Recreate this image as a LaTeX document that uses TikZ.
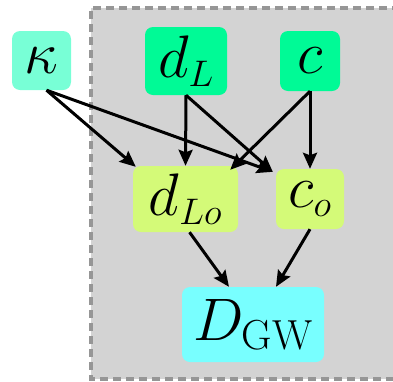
\RequirePackage{fix-cm}
\documentclass[tikz,border=0pt]{standalone}
\usetikzlibrary{arrows.meta}
\DeclareMathSizes{60}{60}{37}{26}

\definecolor{kappacol}{HTML}{78FFD6}
\definecolor{inputcol}{HTML}{00FA96}
\definecolor{obscol}{HTML}{D4FA78}
\definecolor{outcol}{HTML}{78FFFF}
\definecolor{boxgray}{HTML}{D3D3D3}
\definecolor{bordergray}{HTML}{969696}

\begin{document}
\begin{tikzpicture}[x=1pt, y=-1pt,
    var/.style={rounded corners=8pt, inner sep=0pt,
      font=\fontsize{60}{62}\selectfont},
    link/.style={line width=3pt, -{Stealth[length=16pt,width=14pt,inset=2.5pt]}}]
    \useasboundingbox (0,0) rectangle (393,381);
    % shaded plate
    \fill[boxgray] (91,8) rectangle (400,379);
    \draw[bordergray, line width=3.2pt, dash pattern=on 8pt off 5pt] (400,8) -- (91,8) -- (91,379) -- (400,379);

    \node[var, fill=kappacol, minimum width=59pt, minimum height=59pt] (kappa) at (41.5,60.5) {$\kappa$};
    \node[var, fill=inputcol, minimum width=82pt, minimum height=68pt] (dL) at (186,61) {$d_L$};
    \node[var, fill=inputcol, minimum width=60pt, minimum height=60pt] (c) at (310,61) {$c$};
    \node[var, fill=obscol, minimum width=105pt, minimum height=66pt] (dLo) at (185.5,199) {$d_{Lo}$};
    \node[var, fill=obscol, minimum width=68pt, minimum height=60pt] (co) at (310,199) {$c_o$};
    \node[var, fill=outcol, minimum width=142pt, minimum height=75pt] (DGW) at (253,324.5)
      {$D_{\mbox{\fontsize{42}{42}\selectfont GW}}$};

    \draw[link] ([xshift=5pt]kappa.south) -- ([xshift=3pt,yshift=-1pt]dLo.north west);
    \draw[link] ([xshift=5pt]kappa.south) -- ([xshift=-3pt,yshift=-3pt]co.north west);
    \draw[link] (dL.south) -- (dLo.north);
    \draw[link] (dL.south) -- ([xshift=-3pt,yshift=-3pt]co.north west);
    \draw[link] (c.south) -- ([xshift=-8pt,yshift=-4pt]dLo.north east);
    \draw[link] (c.south) -- (co.north);
    \draw[link] ([xshift=4pt]dLo.south) -- ([xshift=-24pt]DGW.north);
    \draw[link] (co.south) -- ([xshift=23pt]DGW.north);
\end{tikzpicture}
\end{document}
